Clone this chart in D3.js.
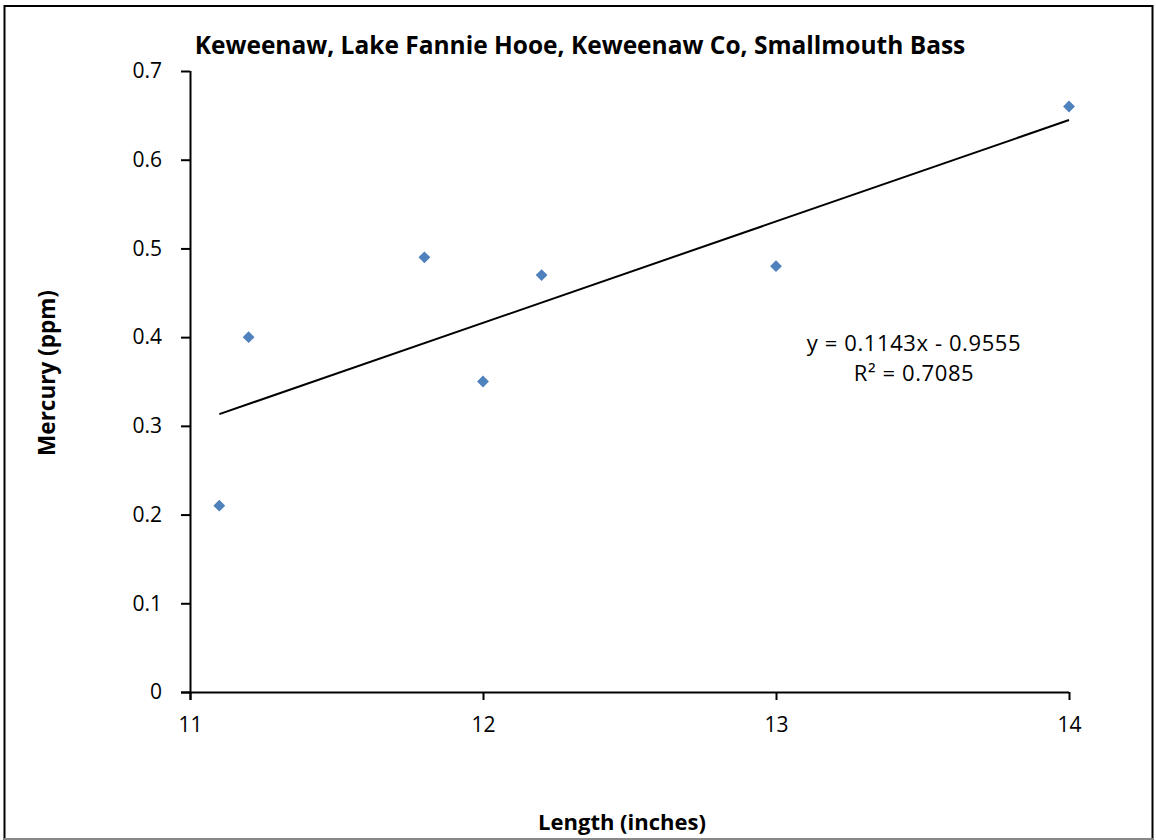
<!DOCTYPE html>
<html><head><meta charset="utf-8">
<script src="https://cdn.jsdelivr.net/npm/d3@7"></script>
<style>body{margin:0;background:#fff}svg text{font-family:"Open Sans",sans-serif}</style>
</head><body>
<svg id="c" width="1156" height="840"></svg>
<script>
const lengths = [11.1, 11.2, 11.8, 12.0, 12.2, 13.0, 14.0];
const mercury = [0.21, 0.40, 0.49, 0.35, 0.47, 0.48, 0.66];
const xTicks = [11, 12, 13, 14];
const yTicks = [0, 0.1, 0.2, 0.3, 0.4, 0.5, 0.6, 0.7];
const slope = 0.1143, intercept = -0.9555;
const title = "Keweenaw, Lake Fannie Hooe, Keweenaw Co, Smallmouth Bass";
const eqLines = ["y = 0.1143x - 0.9555", "R² = 0.7085"];

const svg = d3.select("#c");
svg.append("rect").attr("x",4.5).attr("y",6).attr("width",1148).attr("height",840).attr("fill","none").attr("stroke","#000").attr("stroke-width",2);
svg.append("line").attr("x1",4).attr("x2",1153).attr("y1",839).attr("y2",839).attr("stroke","#888").attr("stroke-width",2);

const x = d3.scaleLinear().domain([11,14]).range([190,1069]);
const y = d3.scaleLinear().domain([0,0.7]).range([692,71]);

const xa = svg.append("g").attr("transform","translate(0,692)")
  .call(d3.axisBottom(x).tickValues(xTicks).tickFormat(d3.format("d")).tickSizeOuter(0).tickSize(8).tickPadding(17));
const ya = svg.append("g").attr("transform","translate(190,0)")
  .call(d3.axisLeft(y).tickValues(yTicks).tickFormat(d=>d===0?"0":d3.format(".1f")(d)).tickSizeOuter(0).tickSize(9).tickPadding(19));
[xa,ya].forEach(a=>{
  a.selectAll("path,line").attr("stroke","#000").attr("stroke-width",2);
  a.selectAll("text").attr("font-size",21).attr("fill","#000").style("font-family","'Open Sans',sans-serif");
});
xa.select(".domain").attr("d","M181,0.5H1069");
ya.select(".domain").attr("d","M0.5,71V700");

svg.append("line")
  .attr("x1",x(lengths[0])).attr("y1",y(slope*lengths[0]+intercept))
  .attr("x2",x(d3.max(lengths))).attr("y2",y(slope*d3.max(lengths)+intercept))
  .attr("stroke","#000").attr("stroke-width",2);

const sym = d3.symbol().type(d3.symbolSquare).size(70);
svg.append("g").selectAll("path").data(lengths.map((l,i)=>[l,mercury[i]])).join("path")
  .attr("d",sym).attr("transform",d=>`translate(${x(d[0])},${y(d[1])}) rotate(45)`)
  .attr("fill","#4F81BD");

svg.append("text").attr("x",580).attr("y",54).attr("text-anchor","middle").attr("font-size",24.5).attr("font-weight","bold").text(title);
svg.append("text").attr("x",622).attr("y",830).attr("text-anchor","middle").attr("font-size",22).attr("font-weight","bold").text("Length (inches)");
svg.append("text").attr("transform","translate(55,373) rotate(-90)").attr("text-anchor","middle").attr("font-size",22.5).attr("font-weight","bold").text("Mercury (ppm)");
eqLines.forEach((t,i)=>svg.append("text").attr("x",914).attr("y",351+i*30).attr("text-anchor","middle").attr("font-size",22).attr("letter-spacing",0.6).text(t));
</script>
</body></html>
